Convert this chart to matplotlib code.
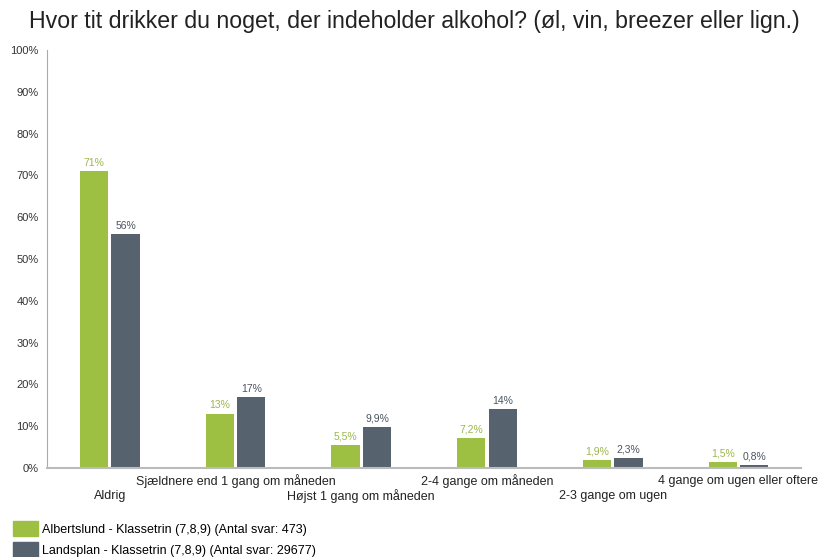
import numpy as np
import matplotlib.pyplot as plt
from matplotlib.patches import Patch

plt.rcParams['font.family'] = ['Liberation Sans', 'DejaVu Sans']

# ------------------------------------------
# DATA
# ------------------------------------------
categories = ["Aldrig", "Sjældnere end 1 gang om måneden", "Højst 1 gang om måneden",
              "2-4 gange om måneden", "2-3 gange om ugen", "4 gange om ugen eller oftere"]
albertslund = [71, 13, 5.5, 7.2, 1.9, 1.5]
landsplan = [56, 17, 9.9, 14, 2.3, 0.8]
albertslund_labels = ["71%", "13%", "5,5%", "7,2%", "1,9%", "1,5%"]
landsplan_labels = ["56%", "17%", "9,9%", "14%", "2,3%", "0,8%"]
series_names = ["Albertslund - Klassetrin (7,8,9) (Antal svar: 473)",
                "Landsplan - Klassetrin (7,8,9) (Antal svar: 29677)"]
title = "Hvor tit drikker du noget, der indeholder alkohol? (øl, vin, breezer eller lign.)"

green = "#9dbf42"
slate = "#56636f"
green_txt = "#9bb84a"
slate_txt = "#4a5560"

# ------------------------------------------
# PLOT
# ------------------------------------------
fig = plt.figure(figsize=(8.18, 5.57), dpi=100)
ax = fig.add_axes([0.0575, 0.16, 0.922, 0.75])

x = np.arange(len(categories))
w = 0.225
off = 0.125
ax.bar(x - off, albertslund, width=w, color=green)
ax.bar(x + off, landsplan, width=w, color=slate)

for xi, v, t in zip(x, albertslund, albertslund_labels):
    ax.text(xi - off, v + 0.8, t, ha="center", va="bottom", fontsize=7.5, color=green_txt)
for xi, v, t in zip(x, landsplan, landsplan_labels):
    ax.text(xi + off, v + 0.8, t, ha="center", va="bottom", fontsize=7.5, color=slate_txt)

ax.set_xlim(-0.5, len(categories) - 0.5)
ax.set_ylim(0, 100)
ax.set_yticks(range(0, 101, 10))
ax.set_yticklabels([f"{v}%" for v in range(0, 101, 10)], fontsize=8, color="#333333")
ax.tick_params(axis="y", length=0, pad=6)

ax.set_xticks(x)
ax.set_xticklabels([])
ax.tick_params(axis="x", length=0)
for xi, c in zip(x, categories):
    # alternate rows so long labels don't overlap
    dy = -0.068 if xi % 2 == 0 else -0.032
    ax.text(xi, dy, c, transform=ax.get_xaxis_transform(), ha="center", va="center",
            fontsize=9, color="#222222")

for s in ["top", "right"]:
    ax.spines[s].set_visible(False)
ax.spines["left"].set_color("#aaaaaa")
ax.spines["bottom"].set_color("#bbbbbb")
ax.spines["bottom"].set_linewidth(1.5)

fig.text(0.506, 0.962, title, ha="center", va="center", fontsize=16.7, color="#222222")

handles = [Patch(color=green), Patch(color=slate)]
fig.legend(handles, series_names, loc="upper left", bbox_to_anchor=(0.01, 0.074),
           frameon=False, fontsize=9, handlelength=2.0, handleheight=1.55,
           labelspacing=0.45, handletextpad=0.3, borderaxespad=0)

fig.savefig("out.png", dpi=100)
